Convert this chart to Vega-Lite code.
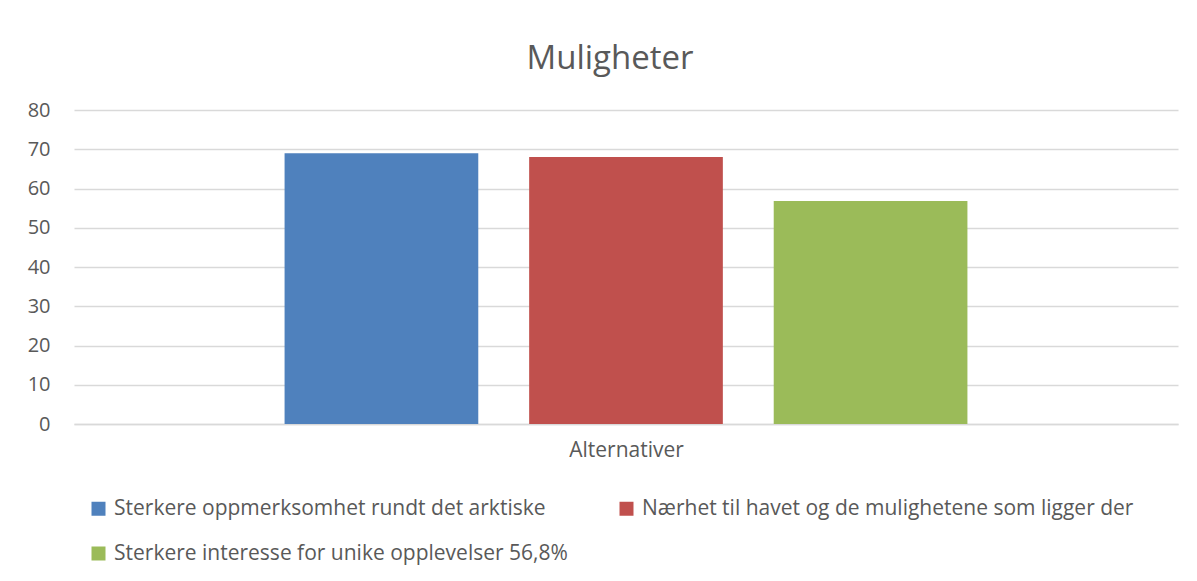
{
  "$schema": "https://vega.github.io/schema/vega-lite/v6.json",
  "autosize": {"type": "none"},
  "width": 1104,
  "height": 314,
  "padding": {"left": 74, "top": 110, "right": 19, "bottom": 157},
  "background": "white",
  "title": {"text": "Muligheter", "fontSize": 33, "fontWeight": "normal", "color": "#595959", "anchor": "middle", "offset": 24, "dx": -16},
  "data": {
    "values": [
      {"kategori": "Alternativer", "serie": "Sterkere oppmerksomhet rundt det arktiske", "verdi": 69.0},
      {"kategori": "Alternativer", "serie": "Nærhet til havet og de mulighetene som ligger der", "verdi": 68.0},
      {"kategori": "Alternativer", "serie": "Sterkere interesse for unike opplevelser 56,8%", "verdi": 56.8}
    ]
  },
  "mark": {"type": "bar"},
  "encoding": {
    "x": {
      "field": "serie", "type": "nominal", "sort": null,
      "scale": {"paddingInner": 0.208, "paddingOuter": 0.861},
      "axis": {"labels": false, "ticks": false, "domain": true, "domainColor": "#D9D9D9", "domainWidth": 1.5, "title": "Alternativer", "titleFontSize": 21, "titleFontWeight": "normal", "titleColor": "#595959", "titlePadding": 15}
    },
    "y": {
      "field": "verdi", "type": "quantitative",
      "scale": {"domain": [0, 80]},
      "axis": {"values": [0, 10, 20, 30, 40, 50, 60, 70, 80], "domain": false, "ticks": false, "title": null, "labelFontSize": 20, "labelColor": "#595959", "labelPadding": 24, "gridColor": "#D9D9D9", "gridWidth": 1.5}
    },
    "color": {
      "field": "serie", "type": "nominal", "sort": null,
      "scale": {"domain": ["Sterkere oppmerksomhet rundt det arktiske", "Nærhet til havet og de mulighetene som ligger der", "Sterkere interesse for unike opplevelser 56,8%"], "range": ["#4F81BD", "#C0504D", "#9BBB59"]},
      "legend": {"orient": "none", "legendX": 14, "legendY": 388, "columns": 2, "direction": "horizontal", "title": null, "symbolType": "square", "symbolSize": 196, "symbolStrokeWidth": 0, "labelFontSize": 21, "labelColor": "#595959", "labelLimit": 600, "labelOffset": 5, "columnPadding": 48, "rowPadding": 23}
    }
  },
  "config": {
    "font": "Open Sans",
    "view": {"stroke": null}
  }
}
